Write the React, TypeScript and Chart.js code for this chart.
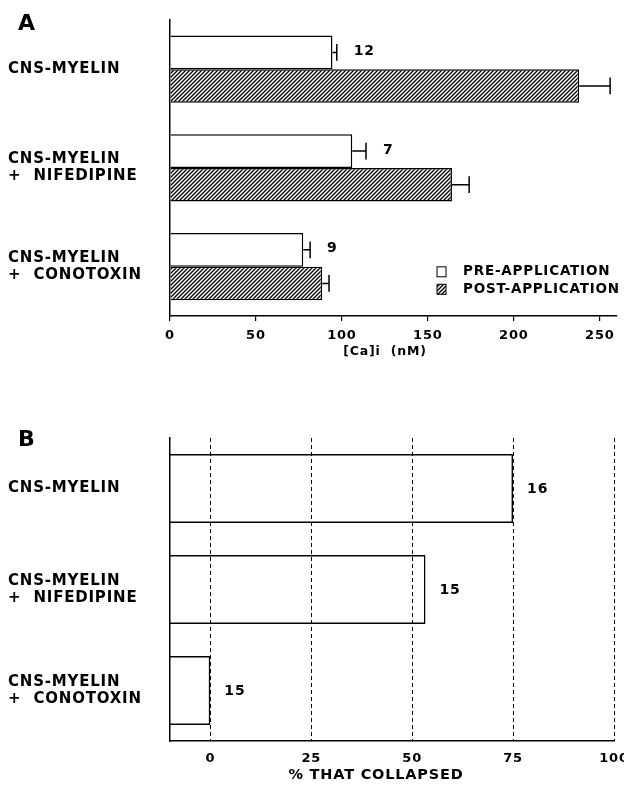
import React, { useEffect, useRef } from "react";
import { Chart, registerables } from "chart.js";

Chart.register(...registerables);

const FONT_FAMILY = "'DejaVu Sans', 'Liberation Sans', sans-serif";

// ---------- Panel A data ----------
const PANEL_A_LETTER = "A";
const CATEGORIES_A = [["CNS-MYELIN"], ["CNS-MYELIN", "+  NIFEDIPINE"], ["CNS-MYELIN", "+  CONOTOXIN"]];
const SERIES_A = ["PRE-APPLICATION", "POST-APPLICATION"];
const PRE_VALUES = [94.5, 106, 77.5];
const PRE_ERRORS = [2.5, 8, 4];
const POST_VALUES = [238, 164, 88.5];
const POST_ERRORS = [18, 10, 4];
const COUNTS_A = [12, 7, 9];
const X_MIN_A = 0;
const X_MAX_A = 260;
const X_STEP_A = 50;
const X_TITLE_A = "[Ca]i  (nM)";

// ---------- Panel B data ----------
const PANEL_B_LETTER = "B";
const CATEGORIES_B = [["CNS-MYELIN"], ["CNS-MYELIN", "+  NIFEDIPINE"], ["CNS-MYELIN", "+  CONOTOXIN"]];
const COLLAPSED_PCT = [75, 53.3, 0];
const COUNTS_B = [16, 15, 15];
const X_MIN_B = -10;
const X_MAX_B = 100;
const X_STEP_B = 25;
const X_TITLE_B = "% THAT COLLAPSED";

function makeHatch(): CanvasPattern | string {
  const size = 4;
  const c = document.createElement("canvas");
  c.width = size;
  c.height = size;
  const g = c.getContext("2d");
  if (!g) return "#666";
  g.fillStyle = "#ffffff";
  g.fillRect(0, 0, size, size);
  g.strokeStyle = "#000000";
  g.lineWidth = 1.3;
  g.beginPath();
  g.moveTo(0, size);
  g.lineTo(size, 0);
  g.moveTo(-size / 2, size / 2);
  g.lineTo(size / 2, -size / 2);
  g.moveTo(size / 2, size * 1.5);
  g.lineTo(size * 1.5, size / 2);
  g.stroke();
  return g.createPattern(c, "repeat") || "#666";
}

const LETTER_SPACING = "0.8px";

const spacingPlugin = {
  id: "letterSpacing",
  beforeUpdate(chart: any) {
    chart.ctx.letterSpacing = LETTER_SPACING;
  },
  beforeDraw(chart: any) {
    chart.ctx.letterSpacing = LETTER_SPACING;
  },
};

const boldFont = (size: number) => `bold ${size}px ${FONT_FAMILY}`;

const panelAPlugin = {
  id: "panelAExtras",
  afterDraw(chart: any) {
    const ctx = chart.ctx as CanvasRenderingContext2D;
    const xs = chart.scales.x;
    const area = chart.chartArea;
    ctx.save();
    ctx.fillStyle = "#000";
    ctx.strokeStyle = "#000";
    ctx.lineWidth = 1.5;
    // error bars
    chart.data.datasets.forEach((ds: any, di: number) => {
      const meta = chart.getDatasetMeta(di);
      meta.data.forEach((bar: any, i: number) => {
        const v = ds.data[i];
        const e = ds.errors[i];
        const x0 = xs.getPixelForValue(v);
        const x1 = xs.getPixelForValue(v + e);
        const half = bar.height / 4;
        ctx.beginPath();
        ctx.moveTo(x0, bar.y);
        ctx.lineTo(x1, bar.y);
        ctx.moveTo(x1, bar.y - half);
        ctx.lineTo(x1, bar.y + half);
        ctx.stroke();
      });
    });
    // counts next to pre bars
    const preMeta = chart.getDatasetMeta(0);
    ctx.font = boldFont(14);
    ctx.textAlign = "left";
    ctx.textBaseline = "middle";
    COUNTS_A.forEach((n, i) => {
      const bar = preMeta.data[i];
      const x = xs.getPixelForValue(PRE_VALUES[i] + PRE_ERRORS[i]) + 17;
      ctx.fillText(String(n), x, bar.y - 1);
    });
    // legend
    const lx = area.left + 267;
    let ly = area.top + 252;
    chart.data.datasets.forEach((ds: any) => {
      ctx.fillStyle = ds.backgroundColor;
      ctx.fillRect(lx, ly - 5, 9, 10);
      ctx.lineWidth = 1;
      ctx.strokeStyle = "#000";
      ctx.strokeRect(lx, ly - 5, 9, 10);
      ctx.fillStyle = "#000";
      ctx.font = boldFont(13.5);
      ctx.textAlign = "left";
      ctx.textBaseline = "middle";
      ctx.fillText(ds.label, lx + 26, ly);
      ly += 17.5;
    });
    // panel letter
    ctx.font = boldFont(22);
    ctx.textBaseline = "alphabetic";
    ctx.fillText(PANEL_A_LETTER, 18, 30);
    // axis title
    ctx.font = boldFont(12.5);
    ctx.textAlign = "center";
    ctx.textBaseline = "middle";
    ctx.fillText(X_TITLE_A, 385, 352);
    ctx.restore();
  },
};

const panelBPlugin = {
  id: "panelBExtras",
  afterDraw(chart: any) {
    const ctx = chart.ctx as CanvasRenderingContext2D;
    const xs = chart.scales.x;
    const meta = chart.getDatasetMeta(0);
    ctx.save();
    ctx.fillStyle = "#000";
    ctx.font = boldFont(14);
    ctx.textAlign = "left";
    ctx.textBaseline = "middle";
    COUNTS_B.forEach((n, i) => {
      const bar = meta.data[i];
      const x = xs.getPixelForValue(COLLAPSED_PCT[i]) + 14;
      ctx.fillText(String(n), x, bar.y + 1);
    });
    ctx.font = boldFont(22);
    ctx.textBaseline = "alphabetic";
    ctx.fillText(PANEL_B_LETTER, 18, 56);
    ctx.font = boldFont(14.5);
    ctx.textAlign = "center";
    ctx.textBaseline = "middle";
    ctx.fillText(X_TITLE_B, 376, 385);
    ctx.restore();
  },
};

function PanelA() {
  const ref = useRef<HTMLCanvasElement>(null);
  useEffect(() => {
    const canvas = ref.current;
    if (!canvas) return;
    const hatch = makeHatch();
    const chart = new Chart(canvas, {
      type: "bar",
      data: {
        labels: CATEGORIES_A as any,
        datasets: [
          {
            label: SERIES_A[0],
            data: PRE_VALUES,
            errors: PRE_ERRORS,
            backgroundColor: "#ffffff",
            borderColor: "#000000",
            borderWidth: 1.5,
            categoryPercentage: 0.68,
            barPercentage: 1,
          } as any,
          {
            label: SERIES_A[1],
            data: POST_VALUES,
            errors: POST_ERRORS,
            backgroundColor: hatch,
            borderColor: "#000000",
            borderWidth: 1.5,
            categoryPercentage: 0.68,
            barPercentage: 1,
          } as any,
        ],
      },
      options: {
        indexAxis: "y",
        responsive: false,
        maintainAspectRatio: false,
        animation: false,
        events: [],
        layout: { padding: { left: 8, right: 7, top: 19, bottom: 0 } },
        plugins: { legend: { display: false }, tooltip: { enabled: false } },
        scales: {
          x: {
            type: "linear",
            min: X_MIN_A,
            max: X_MAX_A,
            ticks: {
              stepSize: X_STEP_A,
              includeBounds: false,
              color: "#000",
              font: { family: FONT_FAMILY, size: 13, weight: "bold" },
              padding: 7,
              maxRotation: 0,
            },
            grid: { drawOnChartArea: false, drawTicks: true, tickLength: 5, color: "#000", lineWidth: 1.2 },
            border: { display: true, color: "#000", width: 1.5 },
            afterFit: (s: any) => {
              s.height = 74;
              s.paddingLeft = 0;
              s.paddingRight = 0;
            },
          },
          y: {
            type: "category",
            ticks: {
              crossAlign: "far",
              color: "#000",
              font: { family: FONT_FAMILY, size: 15, weight: "bold", lineHeight: 1.12 },
            },
            grid: { display: false },
            border: { display: true, color: "#000", width: 1.5 },
            afterFit: (s: any) => {
              s.width = 162;
            },
          },
        },
      } as any,
      plugins: [spacingPlugin, panelAPlugin],
    });
    return () => chart.destroy();
  }, []);
  return <canvas ref={ref} width={624} height={390} style={{ position: "absolute", left: 0, top: 0 }} />;
}

function PanelB() {
  const ref = useRef<HTMLCanvasElement>(null);
  useEffect(() => {
    const canvas = ref.current;
    if (!canvas) return;
    const chart = new Chart(canvas, {
      type: "bar",
      data: {
        labels: CATEGORIES_B as any,
        datasets: [
          {
            label: X_TITLE_B,
            data: COLLAPSED_PCT,
            base: X_MIN_B,
            backgroundColor: "rgba(0,0,0,0)",
            borderColor: "#000000",
            borderWidth: 1.5,
            categoryPercentage: 0.685,
            barPercentage: 1,
          } as any,
        ],
      },
      options: {
        indexAxis: "y",
        responsive: false,
        maintainAspectRatio: false,
        animation: false,
        events: [],
        layout: { padding: { left: 8, right: 10, top: 48, bottom: 0 } },
        plugins: { legend: { display: false }, tooltip: { enabled: false } },
        scales: {
          x: {
            type: "linear",
            min: X_MIN_B,
            max: X_MAX_B,
            ticks: {
              stepSize: X_STEP_B,
              includeBounds: false,
              color: "#000",
              font: { family: FONT_FAMILY, size: 13, weight: "bold" },
              padding: 10,
              maxRotation: 0,
            },
            grid: { drawOnChartArea: true, drawTicks: false, color: "#000", lineWidth: 1 },
            border: { display: true, color: "#000", width: 1.5, dash: [4, 3] },
            afterFit: (s: any) => {
              s.height = 52;
              s.paddingLeft = 0;
              s.paddingRight = 0;
            },
          },
          y: {
            type: "category",
            ticks: {
              crossAlign: "far",
              color: "#000",
              font: { family: FONT_FAMILY, size: 15, weight: "bold", lineHeight: 1.12 },
            },
            grid: { display: false },
            border: { display: true, color: "#000", width: 1.5 },
            afterFit: (s: any) => {
              s.width = 162;
            },
          },
        },
      } as any,
      plugins: [spacingPlugin, panelBPlugin],
    });
    return () => chart.destroy();
  }, []);
  return <canvas ref={ref} width={624} height={403} style={{ position: "absolute", left: 0, top: 390 }} />;
}

export default function App() {
  return (
    <div style={{ position: "absolute", left: 0, top: 0, width: 624, height: 793, background: "#ffffff", overflow: "hidden" }}>
      <PanelA />
      <PanelB />
    </div>
  );
}
